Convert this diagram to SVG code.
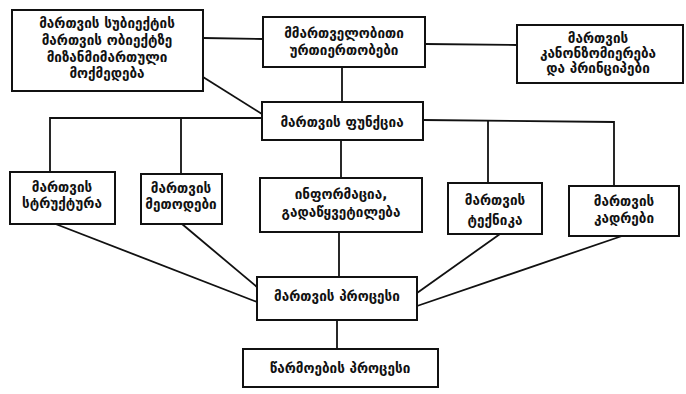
<svg xmlns="http://www.w3.org/2000/svg" width="686" height="394" viewBox="0 0 686 394">
<style>
.box{fill:#fff;stroke:#111;stroke-width:2}
.ln{fill:none;stroke:#111;stroke-width:1.8}
text{font-family:"DejaVu Sans",sans-serif;font-size:13.5px;font-weight:bold;fill:#111;text-anchor:middle;dominant-baseline:central}
</style>
<rect width="686" height="394" fill="#fff"/>
<g id="connectors">
<line class="ln" x1="203" y1="38" x2="263" y2="39"/>
<line class="ln" x1="425" y1="44" x2="517" y2="45"/>
<line class="ln" x1="203" y1="77" x2="262" y2="114"/>
<line class="ln" x1="342" y1="67" x2="342" y2="102"/>
<polyline class="ln" points="262,118 50,118 50,172"/>
<line class="ln" x1="181" y1="118" x2="181" y2="174"/>
<polyline class="ln" points="423,120 614,122 614,186"/>
<line class="ln" x1="488" y1="121" x2="488" y2="183"/>
<line class="ln" x1="341" y1="140" x2="341" y2="178"/>
<line class="ln" x1="339" y1="232" x2="339" y2="277"/>
<line class="ln" x1="53" y1="223" x2="257" y2="302"/>
<line class="ln" x1="182" y1="224" x2="257" y2="287"/>
<line class="ln" x1="500" y1="234" x2="417" y2="293"/>
<line class="ln" x1="622" y1="236" x2="417" y2="306"/>
<line class="ln" x1="337" y1="320" x2="337" y2="349"/>
</g>
<g id="n_subject">
<rect class="box" x="12" y="10" width="191" height="81"/>
<text x="107" y="23">მართვის სუბიექტის</text>
<text x="107" y="40">მართვის ობიექტზე</text>
<text x="107" y="57">მიზანმიმართული</text>
<text x="107" y="73">მოქმედება</text>
</g>
<g id="n_relations">
<rect class="box" x="263" y="17" width="162" height="50"/>
<text x="344" y="33">მმართველობითი</text>
<text x="344" y="50">ურთიერთობები</text>
</g>
<g id="n_principles">
<rect class="box" x="517" y="25" width="166" height="58"/>
<text x="598" y="38">მართვის</text>
<text x="598" y="53">კანონზომიერება</text>
<text x="598" y="68">და პრინციპები</text>
</g>
<g id="n_function">
<rect class="box" x="262" y="102" width="161" height="38"/>
<text x="342" y="122">მართვის ფუნქცია</text>
</g>
<g id="n_structure">
<rect class="box" x="10" y="172" width="105" height="52"/>
<text x="62" y="187">მართვის</text>
<text x="62" y="203">სტრუქტურა</text>
</g>
<g id="n_methods">
<rect class="box" x="141" y="174" width="81" height="50"/>
<text x="181" y="188">მართვის</text>
<text x="181" y="204">მეთოდები</text>
</g>
<g id="n_info">
<rect class="box" x="260" y="178" width="162" height="54"/>
<text x="341" y="194">ინფორმაცია,</text>
<text x="341" y="212">გადაწყვეტილება</text>
</g>
<g id="n_technique">
<rect class="box" x="448" y="183" width="94" height="51"/>
<text x="495" y="200">მართვის</text>
<text x="495" y="220">ტექნიკა</text>
</g>
<g id="n_cadres">
<rect class="box" x="569" y="186" width="110" height="50"/>
<text x="624" y="201">მართვის</text>
<text x="624" y="218">კადრები</text>
</g>
<g id="n_process">
<rect class="box" x="257" y="277" width="160" height="43"/>
<text x="337" y="296">მართვის პროცესი</text>
</g>
<g id="n_production">
<rect class="box" x="243" y="349" width="195" height="38"/>
<text x="340" y="368">წარმოების პროცესი</text>
</g>
</svg>
